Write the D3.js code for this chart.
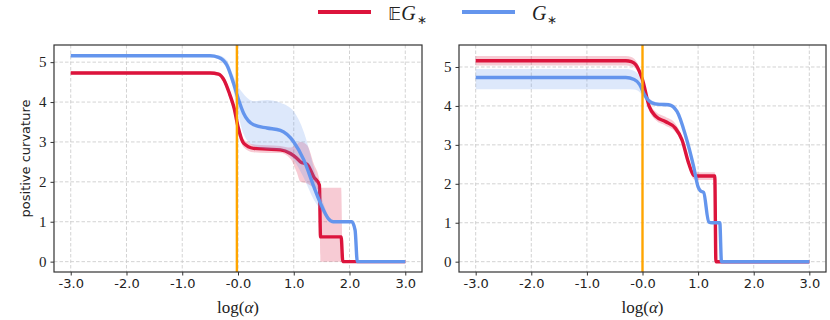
<!DOCTYPE html>
<html>
<head>
<meta charset="utf-8">
<script src="https://cdn.jsdelivr.net/npm/d3@7"></script>
<style>
    body { margin: 0; background: #fff; }
    svg { display: block; }
</style>
</head>
<body>
<div id="chart"></div>
<script>
// tick values and labels
var xTicks = [-3, -2, -1, 0, 1, 2, 3];
var xTickLabels = ["-3.0", "-2.0", "-1.0", "-0.0", "1.0", "2.0", "3.0"];
var yTicks = [0, 1, 2, 3, 4, 5];
var seriesNames = ["EG", "G"];

// rows: [log(alpha), mean, lower, upper]
var leftExpected = [
    [-3.0, 4.73, 4.69, 4.77], [-0.5, 4.73, 4.69, 4.77], [-0.35, 4.70, 4.65, 4.75],
    [-0.25, 4.55, 4.48, 4.62], [-0.15, 4.20, 4.10, 4.30], [-0.07, 3.85, 3.75, 3.95],
    [0.0, 3.38, 3.28, 3.50], [0.1, 2.97, 2.87, 3.07], [0.28, 2.84, 2.74, 2.94],
    [0.52, 2.82, 2.72, 2.92], [0.76, 2.80, 2.72, 2.90], [0.94, 2.71, 2.58, 2.86],
    [1.05, 2.60, 2.25, 2.95], [1.12, 2.50, 2.00, 3.00], [1.24, 2.44, 1.96, 2.92],
    [1.36, 2.12, 1.85, 2.45], [1.46, 1.92, 1.78, 2.05], [1.48, 0.62, 0, 1.85],
    [1.85, 0.62, 0, 1.85], [1.88, 0, 0, 0], [3.0, 0, 0, 0]
];
var leftSample = [
    [-3.0, 5.16, 5.13, 5.19], [-0.5, 5.16, 5.13, 5.19], [-0.35, 5.12, 5.07, 5.17],
    [-0.2, 4.93, 4.82, 5.05], [-0.08, 4.47, 4.28, 4.65], [0.0, 4.10, 3.72, 4.40],
    [0.1, 3.72, 3.20, 4.20], [0.28, 3.43, 2.90, 4.02], [0.52, 3.35, 2.82, 4.05],
    [0.76, 3.29, 2.80, 3.98], [1.0, 3.00, 2.55, 3.76], [1.18, 2.55, 2.10, 3.25],
    [1.36, 1.88, 1.55, 2.35], [1.48, 1.46, 1.30, 1.70], [1.62, 1.08, 1.04, 1.15],
    [1.71, 1.00, 1.00, 1.00], [2.04, 1.00, 1.00, 1.00], [2.1, 0.79, 0.79, 0.79],
    [2.14, 0, 0, 0], [3.0, 0, 0, 0]
];
var rightExpected = [
    [-3.0, 5.16, 5.04, 5.28], [-0.3, 5.16, 5.04, 5.28], [-0.2, 5.14, 5.02, 5.26],
    [-0.12, 5.06, 4.95, 5.17], [0.0, 4.67, 4.57, 4.77], [0.12, 3.99, 3.89, 4.09],
    [0.24, 3.73, 3.63, 3.85], [0.41, 3.60, 3.50, 3.72], [0.59, 3.43, 3.33, 3.55],
    [0.71, 3.13, 3.05, 3.22], [0.83, 2.53, 2.45, 2.60], [0.92, 2.22, 2.12, 2.32],
    [0.97, 2.20, 2.10, 2.30], [1.3, 2.20, 2.10, 2.30], [1.32, 0, 0, 0], [3.0, 0, 0, 0]
];
var rightSample = [
    [-3.0, 4.73, 4.43, 4.95], [-0.3, 4.73, 4.43, 4.95], [-0.15, 4.68, 4.42, 4.90],
    [-0.05, 4.55, 4.35, 4.75], [0.03, 4.30, 4.20, 4.40], [0.17, 4.08, 4.02, 4.14],
    [0.3, 4.04, 3.99, 4.09], [0.47, 4.03, 3.98, 4.08], [0.62, 3.86, 3.81, 3.91],
    [0.78, 3.21, 3.16, 3.26], [0.92, 2.44, 2.40, 2.48], [1.0, 1.92, 1.90, 1.95],
    [1.04, 1.82, 1.80, 1.84], [1.1, 1.78, 1.76, 1.80], [1.19, 1.02, 1.01, 1.03],
    [1.25, 1.00, 1.00, 1.00], [1.39, 1.00, 1.00, 1.00], [1.42, 0, 0, 0], [3.0, 0, 0, 0]
];
var markerX = [-0.02, 0.0];

var width = 830, height = 320;
var plotTop = 45, plotBottom = 272;
var colors = { EG: "#dc143c", G: "#6495ed" };

var svg = d3.select("#chart").append("svg")
    .attr("width", width)
    .attr("height", height);

var panels = [
    { x0: 54, x1: 422, yDomain: [-0.26, 5.43], eg: leftExpected, g: leftSample, mark: markerX[0], ylabel: true },
    { x0: 459, x1: 826, yDomain: [-0.265, 5.565], eg: rightExpected, g: rightSample, mark: markerX[1], ylabel: false }
];

panels.forEach(function (p, pi) {
    var x = d3.scaleLinear().domain([-3.3, 3.3]).range([p.x0, p.x1]);
    var y = d3.scaleLinear().domain(p.yDomain).range([plotBottom, plotTop]);

    var clipId = "clip" + pi;
    svg.append("clipPath").attr("id", clipId)
        .append("rect")
        .attr("x", p.x0).attr("y", plotTop)
        .attr("width", p.x1 - p.x0).attr("height", plotBottom - plotTop);

    var g = svg.append("g");

    // grid
    g.selectAll(".gx").data(xTicks).enter().append("line")
        .attr("x1", d => x(d)).attr("x2", d => x(d))
        .attr("y1", plotTop).attr("y2", plotBottom)
        .attr("stroke", "#c8c8c8").attr("stroke-width", 0.8)
        .attr("stroke-dasharray", "3.5,2");
    g.selectAll(".gy").data(yTicks).enter().append("line")
        .attr("x1", p.x0).attr("x2", p.x1)
        .attr("y1", d => y(d)).attr("y2", d => y(d))
        .attr("stroke", "#c8c8c8").attr("stroke-width", 0.8)
        .attr("stroke-dasharray", "3.5,2");

    var plot = g.append("g").attr("clip-path", "url(#" + clipId + ")");

    var line = d3.line().curve(d3.curveMonotoneX)
        .x(d => x(d[0])).y(d => y(d[1]));
    var area = d3.area().curve(d3.curveMonotoneX)
        .x(d => x(d[0])).y0(d => y(d[2])).y1(d => y(d[3]));

    [p.eg, p.g].forEach(function (data, si) {
        var c = colors[seriesNames[si]];
        plot.append("path").datum(data)
            .attr("d", area)
            .attr("fill", c)
            .attr("fill-opacity", 0.22);
        plot.append("path").datum(data)
            .attr("d", line)
            .attr("fill", "none")
            .attr("stroke", c)
            .attr("stroke-width", 3.4);
    });

    plot.append("line")
        .attr("x1", x(p.mark)).attr("x2", x(p.mark))
        .attr("y1", plotTop).attr("y2", plotBottom)
        .attr("stroke", "#ffa500").attr("stroke-width", 2.4);

    // axes
    var xAxis = d3.axisBottom(x)
        .tickValues(xTicks)
        .tickFormat((d, i) => xTickLabels[i])
        .tickSize(3.5).tickPadding(3.5);
    var gx = g.append("g").attr("transform", "translate(0," + plotBottom + ")").call(xAxis);
    gx.select(".domain").remove();
    gx.selectAll("line").attr("stroke", "#333");
    gx.selectAll("text")
        .attr("fill", "#222")
        .style("font-family", "'DejaVu Sans', sans-serif")
        .style("font-size", "13px");

    var yAxis = d3.axisLeft(y)
        .tickValues(yTicks)
        .tickFormat(d3.format("d"))
        .tickSize(3.5).tickPadding(4);
    var gy = g.append("g").attr("transform", "translate(" + p.x0 + ",0)").call(yAxis);
    gy.select(".domain").remove();
    gy.selectAll("line").attr("stroke", "#333");
    gy.selectAll("text")
        .attr("fill", "#222")
        .style("font-family", "'Liberation Serif', serif")
        .style("font-size", "15px");

    g.append("rect")
        .attr("x", p.x0).attr("y", plotTop)
        .attr("width", p.x1 - p.x0).attr("height", plotBottom - plotTop)
        .attr("fill", "none")
        .attr("stroke", "#333")
        .attr("stroke-width", 1.2);

    // x label
    var xl = g.append("text")
        .attr("x", x(0)).attr("y", 313)
        .attr("text-anchor", "middle")
        .style("font-family", "'Liberation Serif', serif")
        .style("font-size", "17px")
        .attr("fill", "#222");
    xl.append("tspan").text("log(");
    xl.append("tspan").attr("font-style", "italic").text("α");
    xl.append("tspan").text(")");

    if (p.ylabel) {
        g.append("text")
            .attr("transform", "translate(25," + ((plotTop + plotBottom) / 2) + ") rotate(-90)")
            .attr("text-anchor", "middle")
            .attr("dy", "0.35em")
            .style("font-family", "'DejaVu Sans', sans-serif")
            .style("font-size", "13px")
            .attr("fill", "#222")
            .text("positive curvature");
    }
});

// legend
var legend = svg.append("g");
var legendItems = [
    { name: "EG", x: 318, label: ["\u{1D53C}", "G", "\u2217"] },
    { name: "G", x: 462, label: ["", "G", "\u2217"] }
];
legendItems.forEach(function (d) {
    legend.append("line")
        .attr("x1", d.x).attr("x2", d.x + 53)
        .attr("y1", 12).attr("y2", 12)
        .attr("stroke", colors[d.name])
        .attr("stroke-width", 4);
    var t = legend.append("text")
        .attr("x", d.x + 70).attr("y", 20)
        .style("font-family", "'Liberation Serif', serif")
        .style("font-size", "20px")
        .attr("fill", "#222");
    if (d.label[0]) t.append("tspan").style("font-family", "'DejaVu Sans', sans-serif").style("font-size", "18px").text(d.label[0]);
    t.append("tspan").attr("font-style", "italic").text(d.label[1]);
    t.append("tspan").attr("dy", 4).attr("dx", 1).style("font-size", "12px").text(d.label[2]);
});
</script>
</body>
</html>
